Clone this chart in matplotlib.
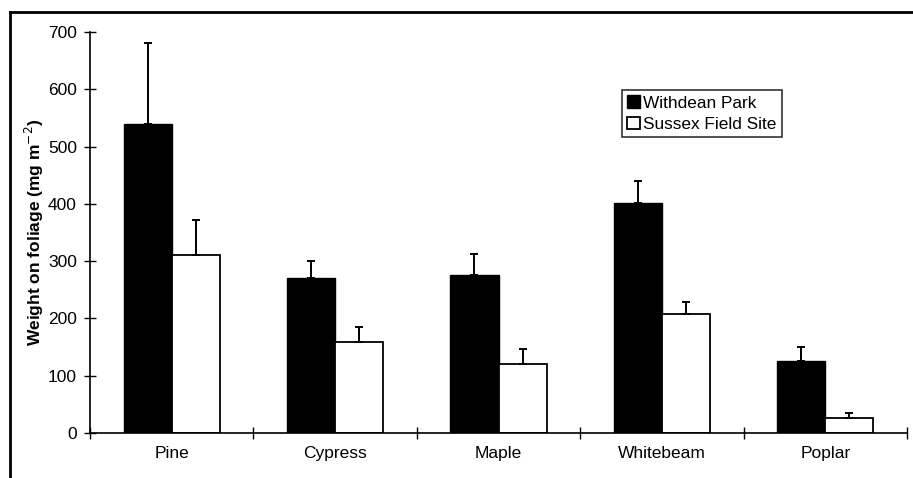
import matplotlib
matplotlib.use("Agg")
import matplotlib.pyplot as plt
import numpy as np
from matplotlib.lines import Line2D

plt.rcParams['font.family'] = ['Liberation Sans', 'DejaVu Sans']

trees = ["Pine", "Cypress", "Maple", "Whitebeam", "Poplar"]
withdean = [540, 270, 276, 401, 125]
withdean_err = [140, 30, 36, 39, 25]
sussex = [310, 158, 120, 208, 27]
sussex_err = [62, 27, 27, 20, 8]

fig = plt.figure(figsize=(9.13, 4.78), dpi=100)
ax = fig.add_axes([90 / 913, 1 - 433 / 478, 817 / 913, 401 / 478])

x = np.arange(len(trees))
w = 0.294
err_kw = dict(ecolor="black", elinewidth=1.4, capsize=3, capthick=1.4)
ax.bar(x - w / 2, withdean, w, color="black", edgecolor="black",
       linewidth=1, yerr=[np.zeros(5), withdean_err], error_kw=err_kw,
       label="Withdean Park")
ax.bar(x + w / 2, sussex, w, color="white", edgecolor="black",
       linewidth=1.3, yerr=[np.zeros(5), sussex_err], error_kw=err_kw,
       label="Sussex Field Site")

ax.set_xlim(-0.5, 4.5)
ax.set_ylim(0, 700)
ax.set_yticks(range(0, 701, 100))
ax.set_xticks(x)
ax.set_xticklabels(trees)
ax.set_xticks(np.arange(-0.5, 4.6, 1), minor=True)
ax.tick_params(axis="x", which="major", length=0, pad=9.5, labelsize=12.5)
ax.tick_params(axis="x", which="minor", direction="inout", length=9, width=1)
ax.tick_params(axis="y", direction="inout", length=9, width=1, labelsize=12.5,
               pad=5)
for s in ["top", "right"]:
    ax.spines[s].set_visible(False)
for s in ["left", "bottom"]:
    ax.spines[s].set_linewidth(1.2)

ax.set_ylabel("Weight on foliage (mg m$^{-2}$)", fontsize=12.5,
              fontweight="bold", labelpad=1.5)

leg = ax.legend(loc="upper left", bbox_to_anchor=(0.651, 0.855), fontsize=12.4,
                frameon=True, fancybox=False, edgecolor="black",
                handlelength=0.75, handleheight=0.75, handletextpad=0.2,
                borderpad=0.3, labelspacing=0.35, borderaxespad=0)
leg.get_frame().set_linewidth(1.2)

fig.add_artist(Line2D([10 / 913, 10 / 913], [0, 1 - 12 / 478],
                      color="black", linewidth=2))
fig.add_artist(Line2D([10 / 913, 1], [1 - 12 / 478, 1 - 12 / 478],
                      color="black", linewidth=2))

fig.savefig("out.png", dpi=100)
